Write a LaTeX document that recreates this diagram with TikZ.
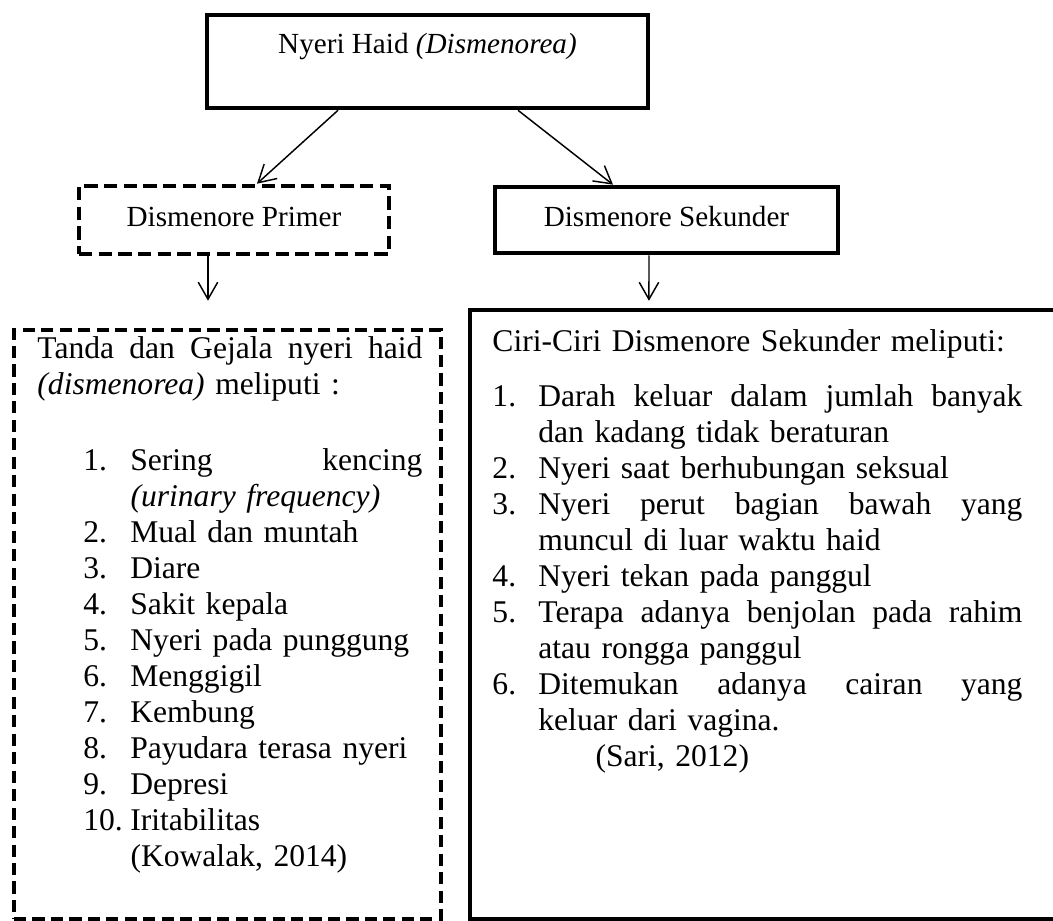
\documentclass[tikz,border=0pt]{standalone}
\usepackage{fontspec}
\setmainfont{Liberation Serif}
\usetikzlibrary{arrows.meta,positioning}

\begin{document}
\begin{tikzpicture}[font=\fontsize{12}{14.8}\selectfont,box/.style={draw=black, line width=1.9pt, inner sep=0pt, text height=8pt, text depth=3pt},dashbox/.style={box, dash pattern=on 5.5pt off 2.6pt},panel/.style={draw=black, line width=1.9pt, inner sep=0pt},dashpanel/.style={panel, dash pattern=on 5pt off 2.6pt},link/.style={line width=0.6pt, -{Straight Barb[length=7pt,width=8pt]}},isi/.style={anchor=base west, align=left, inner sep=0pt, font=\fontsize{13}{14.8}\selectfont}]
\useasboundingbox (0,0) rectangle (15.23,-13.32);
\node[box, minimum width=6.38cm, minimum height=1.345cm, text depth=14.2pt] (haid) at (6.183,-0.889) {Nyeri Haid \textit{(Dismenorea)}};
\node[dashbox, minimum width=4.484cm, minimum height=0.983cm] (primer) at (3.384,-3.182) {Dismenore Primer};\node[box, minimum width=4.961cm, minimum height=0.955cm] (sekunder) at (9.640,-3.182) {Dismenore Sekunder};
\node[dashpanel, minimum width=6.176cm, minimum height=8.519cm] (gejala) at (3.290,-9.032) {};\node[panel, minimum width=9.6cm, minimum height=8.808cm] (ciri) at (11.6,-8.888) {};
\draw[link] ([xshift=-1.294cm]haid.south) -- ([xshift=0.333cm]primer.north);\draw[link] ([xshift=1.309cm]haid.south) -- ([xshift=-0.774cm]sekunder.north);
\draw[link] ([xshift=-0.376cm]primer.south) -- ([xshift=-0.282cm,yshift=0.39cm]gejala.north);\draw[link] ([xshift=-0.253cm]sekunder.south) -- ([xshift=-2.214cm,yshift=0.1cm]ciri.north);
\node[isi, text width=158.4pt] (gejalateks) at (0.535,-5.192) {\makebox[158.4pt][l]{Tanda\hfill dan\hfill Gejala\hfill nyeri\hfill haid}\\ \textit{(dismenorea)} meliputi :\\[16.5pt]
\hspace*{18.9pt}\makebox[19.3pt][l]{1.}\makebox[120.2pt][l]{Sering\hfill kencing}\\ \hspace*{38.3pt}\textit{(urinary frequency)}\\ \hspace*{18.9pt}\makebox[19.3pt][l]{2.}Mual dan muntah\\ \hspace*{18.9pt}\makebox[19.3pt][l]{3.}Diare\\ \hspace*{18.9pt}\makebox[19.3pt][l]{4.}Sakit kepala\\ \hspace*{18.9pt}\makebox[19.3pt][l]{5.}Nyeri pada punggung\\ \hspace*{18.9pt}\makebox[19.3pt][l]{6.}Menggigil\\ \hspace*{18.9pt}\makebox[19.3pt][l]{7.}Kembung\\ \hspace*{18.9pt}\makebox[19.3pt][l]{8.}Payudara terasa nyeri\\ \hspace*{18.9pt}\makebox[19.3pt][l]{9.}Depresi\\ \hspace*{18.9pt}\makebox[19.3pt][l]{10.}Iritabilitas\\ \hspace*{38.3pt}(Kowalak, 2014)};
\node[isi, text width=218.1pt] (ciriteks) at (7.116,-5.077) {Ciri-Ciri Dismenore Sekunder meliputi:\\[8.2pt]
\makebox[18.9pt][l]{1.}\makebox[199.2pt][l]{Darah\hfill keluar\hfill dalam\hfill jumlah\hfill banyak}\\ \hspace*{18.9pt}dan kadang tidak beraturan\\ \makebox[18.9pt][l]{2.}Nyeri saat berhubungan seksual\\ \makebox[18.9pt][l]{3.}\makebox[199.2pt][l]{Nyeri\hfill perut\hfill bagian\hfill bawah\hfill yang}\\ \hspace*{18.9pt}muncul di luar waktu haid\\ \makebox[18.9pt][l]{4.}Nyeri tekan pada panggul\\ \makebox[18.9pt][l]{5.}\makebox[199.2pt][l]{Terapa\hfill adanya\hfill benjolan\hfill pada\hfill rahim}\\ \hspace*{18.9pt}atau rongga panggul\\ \makebox[18.9pt][l]{6.}\makebox[199.2pt][l]{Ditemukan\hfill adanya\hfill cairan\hfill yang}\\ \hspace*{18.9pt}keluar dari vagina.\\ \hspace*{42.4pt}(Sari, 2012)};
\end{tikzpicture}
\end{document}
